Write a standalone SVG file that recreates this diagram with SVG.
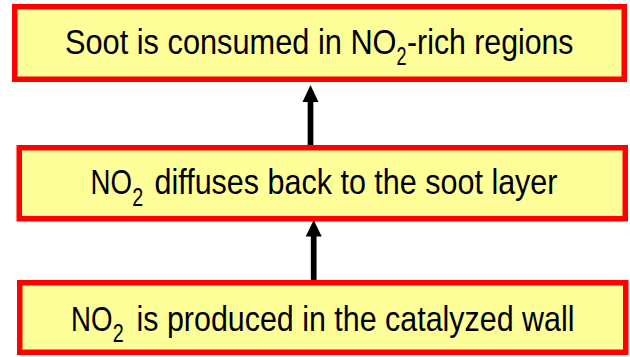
<svg xmlns="http://www.w3.org/2000/svg" width="630" height="357" viewBox="0 0 630 357">
<style>
.box{fill:#ffff99;stroke:#ff0000;stroke-width:5.5}
.t{font-family:"Liberation Sans Narrow","Liberation Sans",Arial,sans-serif;font-size:35px;fill:#000}
.sub{font-family:"Liberation Sans Narrow","Liberation Sans",Arial,sans-serif;font-size:25px;fill:#000}
</style>
<g id="box-top">
<rect class="box" x="14.75" y="6.75" width="609.5" height="72.5"/>
<text class="t" x="65" y="54" textLength="331.5" lengthAdjust="spacingAndGlyphs">Soot is consumed in NO</text>
<text class="sub" x="396.5" y="65" textLength="10" lengthAdjust="spacingAndGlyphs">2</text>
<text class="t" x="407" y="54" textLength="166.5" lengthAdjust="spacingAndGlyphs">-rich regions</text>
</g>
<g id="box-middle">
<rect class="box" x="19.25" y="147.75" width="606" height="71"/>
<text class="t" x="90.5" y="193.5" textLength="41.5" lengthAdjust="spacingAndGlyphs">NO</text>
<text class="sub" x="132.3" y="205.5" textLength="11" lengthAdjust="spacingAndGlyphs">2</text>
<text class="t" x="154.5" y="193.5" textLength="403" lengthAdjust="spacingAndGlyphs">diffuses back to the soot layer</text>
</g>
<g id="box-bottom">
<rect class="box" x="19.75" y="282.75" width="606" height="69.5"/>
<text class="t" x="71" y="330.5" textLength="41.5" lengthAdjust="spacingAndGlyphs">NO</text>
<text class="sub" x="112.7" y="342" textLength="11" lengthAdjust="spacingAndGlyphs">2</text>
<text class="t" x="136.5" y="330.5" textLength="438" lengthAdjust="spacingAndGlyphs">is produced in the catalyzed wall</text>
</g>
<g id="connectors">
<line x1="310.5" y1="145" x2="310.5" y2="100" stroke="#000" stroke-width="5.7"/>
<polygon points="310.5,85 302.5,102 318.5,102" fill="#000"/>
<line x1="313.7" y1="280" x2="313.7" y2="234" stroke="#000" stroke-width="5.7"/>
<polygon points="313.7,220 305.7,236.5 321.7,236.5" fill="#000"/>
</g>
</svg>
